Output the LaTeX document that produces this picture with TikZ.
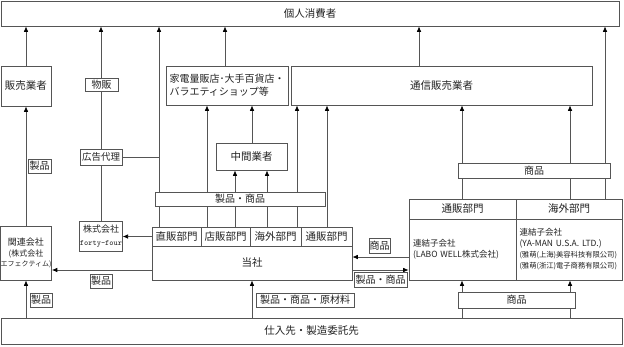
\documentclass[tikz,border=0pt]{standalone}
\usepackage{fontspec}
\setmainfont{Noto Sans CJK JP}
\usetikzlibrary{arrows.meta,backgrounds}
\definecolor{lc}{RGB}{85,85,85}
\definecolor{tc}{RGB}{35,35,35}
\newcommand\mkbox[7]{\node[#1, minimum width={(#4)-(#2)}, minimum height={(#5)-(#3)}] (#6) at ({((#2)+(#4))/2},{((#3)+(#5))/2}) {#7};}
\begin{document}
\begin{tikzpicture}[x=1pt,y=-1pt,
  box/.style={draw=lc, fill=white, line width=0.7pt, inner sep=0pt, text=tc, font=\fontsize{10.5}{12}\selectfont},
  lab/.style={box, font=\fontsize{10}{11}\selectfont},
  arr/.style={draw=lc, line width=0.7pt, -{Latex[length=5.5pt,width=4.5pt,color=black]}},
  ln/.style={draw=lc, line width=0.7pt}]
\useasboundingbox (0,0) rectangle (624,346);
% x and y guides
\foreach \v in {159,207,225,235,252,267,297,327,419,462,570,605}{\coordinate (x\v) at (\v,0);}
\foreach \v in {257,270}{\coordinate (y\v) at (0,\v);}
% boxes
\mkbox{box}{1}{1}{619}{26}{cons}{個人消費者}
\mkbox{box}{1}{66}{51}{106}{hanbai}{販売業者}
\mkbox{lab}{85}{78}{118}{91}{buppan}{物販}
\mkbox{box,align=left,font=\fontsize{10}{13}\selectfont}{166}{66}{288}{105}{kaden}{家電量販店･大手百貨店・\\バラエティショップ等}
\mkbox{box}{291}{66}{592}{105}{tsushin}{通信販売業者}
\mkbox{box,font=\fontsize{9.5}{11}\selectfont}{80}{149}{122}{165}{koukoku}{広告代理}
\mkbox{box}{216}{143}{287}{170}{chukan}{中間業者}
\mkbox{lab}{155}{192}{325}{206}{seisho}{製品・商品}
\mkbox{lab}{458}{163}{610}{178}{shohinA}{商品}
\mkbox{box}{152}{227}{201}{246}{d1}{直販部門}
\mkbox{box}{201}{227}{250}{246}{d2}{店販部門}
\mkbox{box}{250}{227}{301}{246}{d3}{海外部門}
\mkbox{box}{301}{227}{352}{246}{d4}{通販部門}
\mkbox{box}{152}{246}{352}{280}{tousha}{当社}
\mkbox{box,align=center,font=\fontsize{9}{13}\selectfont}{80}{221}{122}{251}{forty}{株式会社\\{\ttfamily\fontsize{8}{9}\selectfont forty-four}}
\mkbox{box,align=center,font=\fontsize{8}{10.5}\selectfont}{1}{226}{51}{280}{kanren}{{\fontsize{9}{10.5}\selectfont 関連会社}\\(株式会社\\{\fontsize{7}{10.5}\selectfont エフェクティム)}}
\mkbox{box}{409}{199}{516}{219}{tsuhanh}{通販部門}
\mkbox{box}{516}{199}{622}{219}{kaigaih}{海外部門}
\mkbox{box,text width=99pt,align=left,font=\fontsize{8.5}{11}\selectfont}{409}{219}{516}{280}{tsuhanb}{連結子会社\\(LABO WELL株式会社)}
\mkbox{box,text width=99pt,align=left,font=\fontsize{8.5}{11}\selectfont}{516}{219}{622}{280}{kaigaib}{連結子会社\\(YA-MAN U.S.A. LTD.)\\{\fontsize{7.3}{11}\selectfont (雅萌(上海)美容科技有限公司)}\\{\fontsize{7.3}{11}\selectfont (雅萌(浙江)電子商務有限公司)}}
\mkbox{box}{1}{318}{622}{344}{shiire}{仕入先・製造委託先}
\mkbox{lab}{458}{292}{575}{308}{shohinB}{商品}
\mkbox{lab}{28}{159}{51}{173}{l1}{製品}
\mkbox{lab}{90}{274}{112}{288}{l2}{製品}
\mkbox{lab}{30}{293}{52}{307}{l3}{製品}
\mkbox{lab}{256}{293}{354}{307}{l4}{製品・商品・原材料}
\mkbox{lab}{369}{238}{390}{253}{l5}{商品}
\mkbox{lab}{354}{272}{407}{287}{l6}{製品・商品}
% connectors
\begin{scope}[on background layer]
\fill[white] (0,0) rectangle (624,346);
\draw[arr] (hanbai.north) -- (hanbai.north |- cons.south);
\draw[arr] (forty.north) -- (forty.north |- cons.south);
\draw[arr] (d1.north -| x159) -- (cons.south -| x159);
\draw[ln] (koukoku.east) -- (koukoku.east -| x159);
\draw[arr] (kaden.north -| x225) -- (cons.south -| x225);
\draw[arr] (tsushin.north -| x419) -- (cons.south -| x419);
\draw[arr] (kaigaih.north -| x605) -- (cons.south -| x605);
\draw[arr] (d2.north -| x207) -- (kaden.south -| x207);
\draw[arr] (chukan.north -| x252) -- (kaden.south -| x252);
\draw[arr] (d2.north -| x235) -- (chukan.south -| x235);
\draw[arr] (d3.north -| x267) -- (chukan.south -| x267);
\draw[arr] (d3.north -| x297) -- (tsushin.south -| x297);
\draw[arr] (d4.north -| x327) -- (tsushin.south -| x327);
\draw[arr] (tsuhanh.north -| x462) -- (tsushin.south -| x462);
\draw[arr] (kaigaih.north -| x570) -- (tsushin.south -| x570);
\draw[arr] (kanren.north) -- (hanbai.south);
\draw[arr] (d1.west) -- (forty.east |- d1.west);
\draw[arr] (tousha.west |- y270) -- (kanren.east |- y270);
\draw[arr] (shiire.north -| kanren.south) -- (kanren.south);
\draw[arr] (shiire.north -| x252) -- (tousha.south -| x252);
\draw[arr] (tsuhanb.west |- y257) -- (tousha.east |- y257);
\draw[arr] (tousha.east |- y270) -- (tsuhanb.west |- y270);
\draw[arr] (shiire.north -| x462) -- (tsuhanb.south -| x462);
\draw[arr] (shiire.north -| x570) -- (kaigaib.south -| x570);
\end{scope}
\end{tikzpicture}
\end{document}
